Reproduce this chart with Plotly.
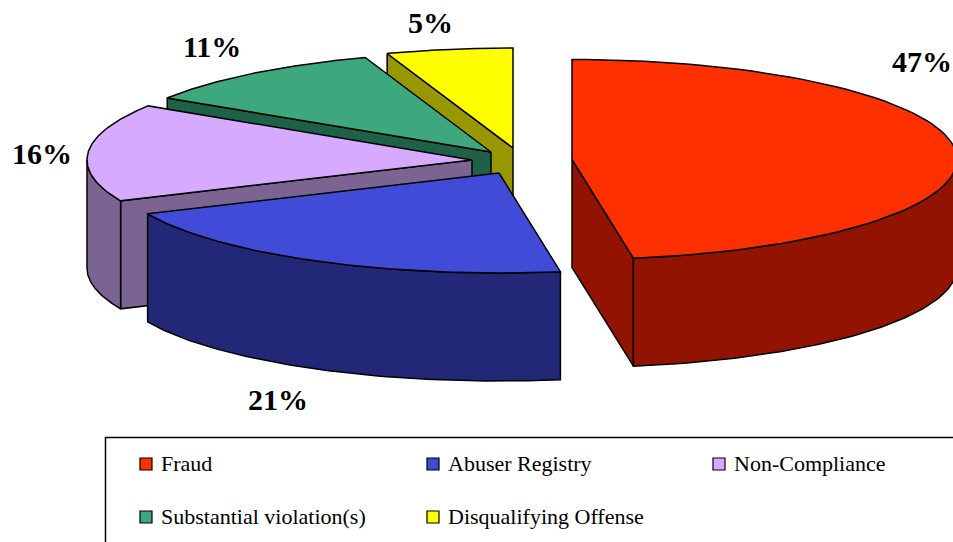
import numpy as np
import plotly.graph_objects as go

# ---- data ----
categories = ["Fraud", "Abuser Registry", "Non-Compliance", "Substantial violation(s)", "Disqualifying Offense"]
values = [47.45, 20.85, 15.8, 10.6, 5.3]

# ---- style ----
top_colors = ["#FF3000", "#404BD8", "#D5AAFF", "#3DA87D", "#FFFF00"]
wall_colors = ["#921400", "#222877", "#7B6492", "#1F6148", "#979700"]

# ---- pie geometry (pixel space of the 953x542 frame) ----
W, H = 953, 542
RX, RY, DEPTH = 385, 100, 108
apex_x = [572, 499, 472, 491, 513]
apex_y = [159.5, 173, 160, 152, 148]
label_pos = [(922, 61.5), (278, 399.5), (42, 153.5), (212, 46.5), (430, 22.5)]
legend_pos = [(140, 464), (427, 464), (713, 464), (140, 517), (427, 517)]
LW = 1.5
SERIF = "Liberation Serif"

edges = np.concatenate([[0], np.cumsum(values)]) / sum(values) * 360.0


def rim(cx, cy, a0, a1, n=80, dy=0.0):
    t = np.radians(np.linspace(a0, a1, n))
    return cx + RX * np.sin(t), cy - RY * np.cos(t) + dy


def radial_wall(cx, cy, a):
    px, py = rim(cx, cy, a, a, n=1)
    return [cx, px[0], px[0], cx, cx], [cy, py[0], py[0] + DEPTH, cy + DEPTH, cy]


fig = go.Figure()


def poly(xs, ys, color, name):
    fig.add_trace(go.Scatter(x=list(xs), y=list(ys), mode="lines", fill="toself", fillcolor=color,
                             line=dict(color="black", width=LW), name=name,
                             hoverinfo="name", showlegend=False))


# painter's order: back slices first, the front ones last
for i in [4, 3, 2, 1, 0]:
    cx, cy = apex_x[i], apex_y[i]
    a0, a1 = edges[i], edges[i + 1]
    name = categories[i]
    if np.sin(np.radians(a0)) < -1e-9:
        xs, ys = radial_wall(cx, cy, a0)
        poly(xs, ys, wall_colors[i], name)
    if np.sin(np.radians(a1)) > 1e-9:
        xs, ys = radial_wall(cx, cy, a1)
        poly(xs, ys, wall_colors[i], name)
    lo, hi = max(a0, 90), min(a1, 270)
    if lo < hi:
        tx, ty = rim(cx, cy, lo, hi)
        bx, by = rim(cx, cy, hi, lo, dy=DEPTH)
        poly(np.r_[tx, bx, tx[0]], np.r_[ty, by, ty[0]], wall_colors[i], name)
    tx, ty = rim(cx, cy, a0, a1)
    poly(np.r_[cx, tx, cx], np.r_[cy, ty, cy], top_colors[i], name)

annotations = []
for v, (x, y) in zip(values, label_pos):
    annotations.append(dict(x=x, y=y, xref="x", yref="y", text=f"<b>{v:.0f}%</b>", showarrow=False,
                            font=dict(family=SERIF, size=30, color="black"),
                            xanchor="center", yanchor="middle"))

shapes = [dict(type="rect", xref="x", yref="y", x0=105.5, y0=437.5, x1=W + 20, y1=H + 20,
               line=dict(color="black", width=1.5), fillcolor="white", layer="below")]
for c, col, (x, y) in zip(categories, top_colors, legend_pos):
    shapes.append(dict(type="rect", xref="x", yref="y", x0=x, x1=x + 12, y0=y - 6, y1=y + 6,
                       line=dict(color="black", width=1.2), fillcolor=col))
    annotations.append(dict(x=x + 19, y=y - 1, xref="x", yref="y", text=c, showarrow=False,
                            font=dict(family=SERIF, size=22, color="black"),
                            xanchor="left", yanchor="middle"))

fig.update_layout(width=W, height=H, margin=dict(l=0, r=0, t=0, b=0),
                  paper_bgcolor="white", plot_bgcolor="white", showlegend=False,
                  xaxis=dict(range=[0, W], visible=False, fixedrange=True),
                  yaxis=dict(range=[H, 0], visible=False, fixedrange=True),
                  annotations=annotations, shapes=shapes)

fig.write_html("out.html", config=dict(displayModeBar=False),
               post_script="document.body.style.margin='0';")
